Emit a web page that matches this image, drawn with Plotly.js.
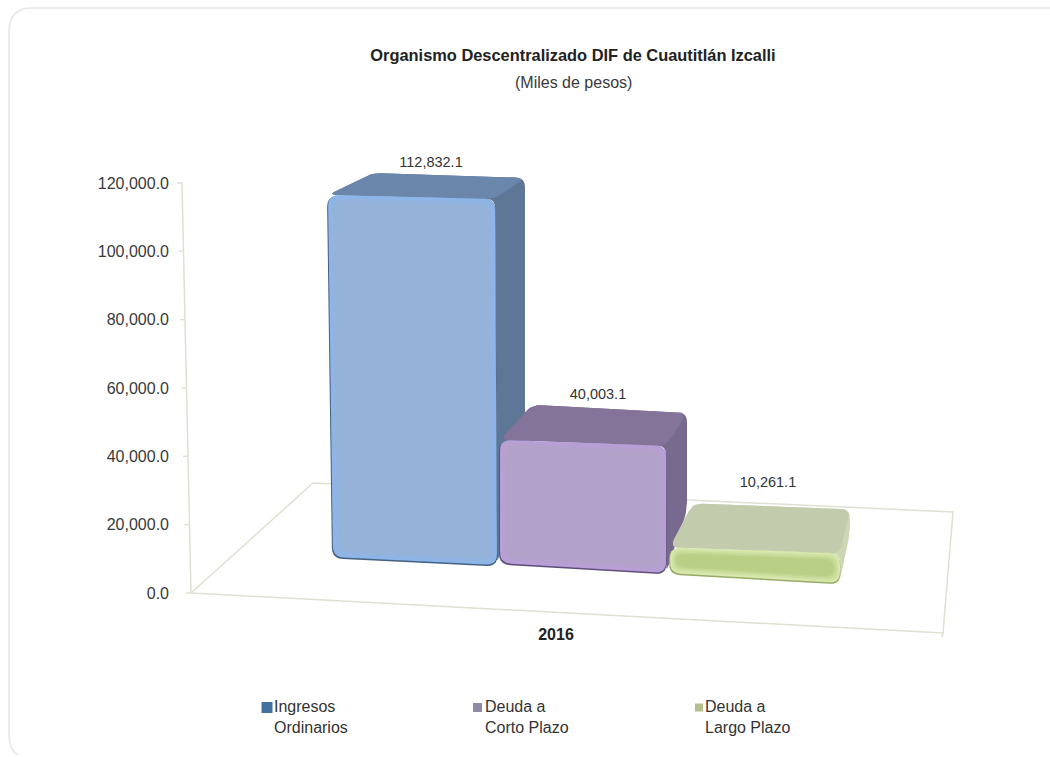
<!DOCTYPE html>
<html>
<head>
<meta charset="utf-8">
<script src="https://cdn.plot.ly/plotly-3.0.1.min.js"></script>
<style>html,body{margin:0;padding:0;background:#fff}#chart{width:1050px;height:757px}</style>
</head>
<body>
<div id="chart"></div>
<script>
// ---- data ----
const categories = ['2016'];
const seriesNames = ['Ingresos<br>Ordinarios', 'Deuda a<br>Corto Plazo', 'Deuda a<br>Largo Plazo'];
const seriesValues = [112832.1, 40003.1, 10261.1];
const axisTicks = [0, 20000, 40000, 60000, 80000, 100000, 120000];
const titleText = 'Organismo Descentralizado DIF de Cuautitlán Izcalli';
const subtitleText = '(Miles de pesos)';

// ---- the 3-D look: page-sized axes, y is in value units ----
const W = 1050, H = 757, ZERO_PX = 593, PX_PER_UNIT = 0.003417;
const toY = px => (ZERO_PX - px) / PX_PER_UNIT;
const font = 'Liberation Sans, Arial, sans-serif';

const geometry = [
  {bl:[333,557], br:[497,565], lean:[-5,-2], back:[[44,-22],[30,-21]], label:[431,163],
   c:{edge:'#46607f', glow:'#8cb6ea', face:'#95b2d8', top:'#6a86ab', side:'#5f7796'}},
  {bl:[500,563], br:[666,573], lean:[0,0], back:[[32,-35],[21,-33]], label:[598,395],
   c:{edge:'#5f4f78', glow:'#b89fd8', face:'#b2a1c8', top:'#85749a', side:'#786a8e'}},
  {bl:[670,573], br:[840,583], lean:[0,0], back:[[23,-44],[10,-44]], label:[768,483],
   c:{edge:'#98ab68', glow:'#d8e8ae', face:'#b9cf86', top:'#c2ccad', side:'#ccd7b5'}}
];

function rounded(corners, r) {
  const out = {x: [], y: []};
  const n = corners.length;
  for (let i = 0; i < n; i++) {
    const p = corners[i], a = corners[(i + n - 1) % n], b = corners[(i + 1) % n];
    const da = Math.hypot(a[0]-p[0], a[1]-p[1]), db = Math.hypot(b[0]-p[0], b[1]-p[1]);
    const ra = Math.min(r, da/2.2), rb = Math.min(r, db/2.2);
    const s = [p[0]+(a[0]-p[0])*ra/da, p[1]+(a[1]-p[1])*ra/da];
    const e = [p[0]+(b[0]-p[0])*rb/db, p[1]+(b[1]-p[1])*rb/db];
    for (let t = 0; t <= 1.0001; t += 0.2) {
      const u = 1 - t;
      out.x.push(u*u*s[0] + 2*u*t*p[0] + t*t*e[0]);
      out.y.push(toY(u*u*s[1] + 2*u*t*p[1] + t*t*e[1]));
    }
  }
  out.x.push(out.x[0]); out.y.push(out.y[0]);
  return out;
}
function poly(corners, r, color) {
  const p = rounded(corners, r);
  return {type:'scatter', mode:'lines', x:p.x, y:p.y, fill:'toself', fillcolor:color,
          line:{width:0, color:color}, hoverinfo:'skip', showlegend:false};
}
const inset = (q, d) => [[q[0][0]+d,q[0][1]+d],[q[1][0]-d,q[1][1]+d],[q[2][0]-d,q[2][1]-d],[q[3][0]+d,q[3][1]-d]];
const mix = (a, b, t) => {
  const h = s => [1,3,5].map(i => parseInt(s.substr(i,2),16));
  const A = h(a), B = h(b);
  return 'rgb(' + A.map((v,i) => Math.round(v+(B[i]-v)*t)).join(',') + ')';
};

const traces = [];

// floor and slanted value axis
const FL=[191,593], BL=[313,483], BR=[953,512], FR=[943,633];
const floorLine = {color:'#dfe0d2', width:1.5};
traces.push({type:'scatter', mode:'lines', hoverinfo:'skip', showlegend:false, line:floorLine,
  x:[FL[0],BL[0],BR[0],FR[0],FL[0],null,FR[0],FR[0]-1],
  y:[FL[1],BL[1],BR[1],FR[1],FL[1],null,FR[1],FR[1]+4].map(v => v===null?null:toY(v))});
const axisX = v => FL[0] - v * 9 / 120000;
const wallX = [], wallY = [];
axisTicks.forEach(v => { wallX.push(axisX(v)-5, axisX(v), null); wallY.push(v, v, null); });
wallX.push(axisX(0), axisX(axisTicks[axisTicks.length-1]));
wallY.push(0, axisTicks[axisTicks.length-1]);
traces.push({type:'scatter', mode:'lines', hoverinfo:'skip', showlegend:false, line:floorLine, x:wallX, y:wallY});

// bars: each height comes from its value
const labelX = [], labelY = [], labelT = [];
seriesValues.forEach((v, i) => {
  const g = geometry[i];
  const h = v * 0.00328 - 8;
  const tl = [g.bl[0]+g.lean[0], g.bl[1]-h], tr = [g.br[0]+g.lean[1], g.br[1]-h-4];
  const bbr = [tr[0]+g.back[1][0], tr[1]+g.back[1][1]];
  const bbl = [tl[0]+g.back[0][0], tl[1]+g.back[0][1]];
  const floorBack = [bbr[0], bbr[1] + (h+4)*0.77];
  // whole silhouette behind top and side, so rounding leaves no gaps
  traces.push(poly([tl, bbl, bbr, floorBack, g.br, tr], 9, g.c.side));
  traces.push(poly([tl, bbl, bbr, tr], 9, g.c.top));
  const q = [tl, tr, g.br, g.bl];
  // dark rim only on the left and the bottom
  traces.push(poly([[tl[0]-1,tl[1]+1],[tr[0],tr[1]],[g.br[0]+0.5,g.br[1]+1.5],[g.bl[0]-1,g.bl[1]+1.5]], 11, g.c.edge));
  traces.push(poly(q, 11, g.c.glow));
  for (let s = 1; s <= 4; s++) {
    const d = Math.min(s*1.6, h/7*s/2);
    traces.push(poly(inset(q, d), 10, mix(g.c.glow, g.c.face, s/4)));
  }
  labelX.push(g.label[0]); labelY.push(toY(g.label[1]));
  labelT.push(v.toLocaleString('en-US', {minimumFractionDigits:1, maximumFractionDigits:1}));
});
traces.push({type:'scatter', mode:'text', x:labelX, y:labelY, text:labelT, hoverinfo:'skip', showlegend:false,
  textposition:'middle center', textfont:{family:font, size:14.5, color:'#333'}});

// legend: text from the library's legends, small swatches right against the text as in the reference
const legendColors = ['#44709f', '#8f8aa5', '#b5c08f'];
const legendIds = ['legend', 'legend2', 'legend3'];
const legendLeft = [234, 445, 665];
const swatchX = [267, 477.5, 699], swatchSize = [11, 9, 8];
seriesNames.forEach((n, i) => {
  traces.push({type:'scatter', mode:'markers', x:[null], y:[null], name:n, legend:legendIds[i],
    marker:{symbol:'square', size:8, color:'rgba(0,0,0,0)'}});
  traces.push({type:'scatter', mode:'markers', x:[swatchX[i]], y:[toY(707.5)], hoverinfo:'skip', showlegend:false,
    marker:{symbol:'square', size:swatchSize[i], color:legendColors[i]}});
});
const legendOf = i => ({x:legendLeft[i]/W, y:1-689/H, xanchor:'left', yanchor:'top', bgcolor:'rgba(0,0,0,0)',
  borderwidth:0, font:{family:font, size:16, color:'#333'}, itemclick:false, itemdoubleclick:false});

const layout = {
  width:W, height:H, margin:{l:0,r:0,t:0,b:0}, paper_bgcolor:'#fff', plot_bgcolor:'rgba(0,0,0,0)',
  showlegend:true, hovermode:false,
  legend:legendOf(0), legend2:legendOf(1), legend3:legendOf(2),
  title:{text:'<b>'+titleText+'</b>', x:573/W, xanchor:'center', xref:'paper', y:1-50/H, yanchor:'top',
    font:{family:font, size:16.4, color:'#222'}},
  annotations:[{text:subtitleText, xref:'paper', yref:'paper', x:573/W, y:1-83/H, xanchor:'center', yanchor:'middle',
    showarrow:false, font:{family:font, size:16, color:'#3a3a3a'}}],
  xaxis:{range:[0,W], domain:[0,1], anchor:'free', position:1-623/H, showgrid:false, zeroline:false, showline:false,
    tickmode:'array', tickvals:[556], ticktext:categories.map(c => '<b>'+c+'</b>'), ticks:'',
    tickfont:{family:font, size:16, color:'#222'}, fixedrange:true},
  yaxis:{range:[toY(H), toY(0)], domain:[0,1], anchor:'free', position:169/W, side:'left', showgrid:false, zeroline:false, showline:false,
    tickmode:'array', tickvals:axisTicks, tickformat:',.1f', ticks:'',
    tickfont:{family:font, size:16, color:'#3a3a3a'}, fixedrange:true},
  shapes:[{type:'path', xref:'paper', yref:'paper', layer:'below',
    path:'M '+(1050/W)+' '+(1-8/H)+' L '+(32/W)+' '+(1-8/H)+' Q '+(9/W)+' '+(1-8/H)+' '+(9/W)+' '+(1-32/H)+' L '+(9/W)+' '+(1-735/H)+' Q '+(9/W)+' '+(1-750/H)+' '+(18/W)+' '+(1-755/H),
    line:{color:'#ebebeb', width:2}}]
};
Plotly.newPlot('chart', traces, layout, {displayModeBar:false, staticPlot:true});
</script>
</body>
</html>
